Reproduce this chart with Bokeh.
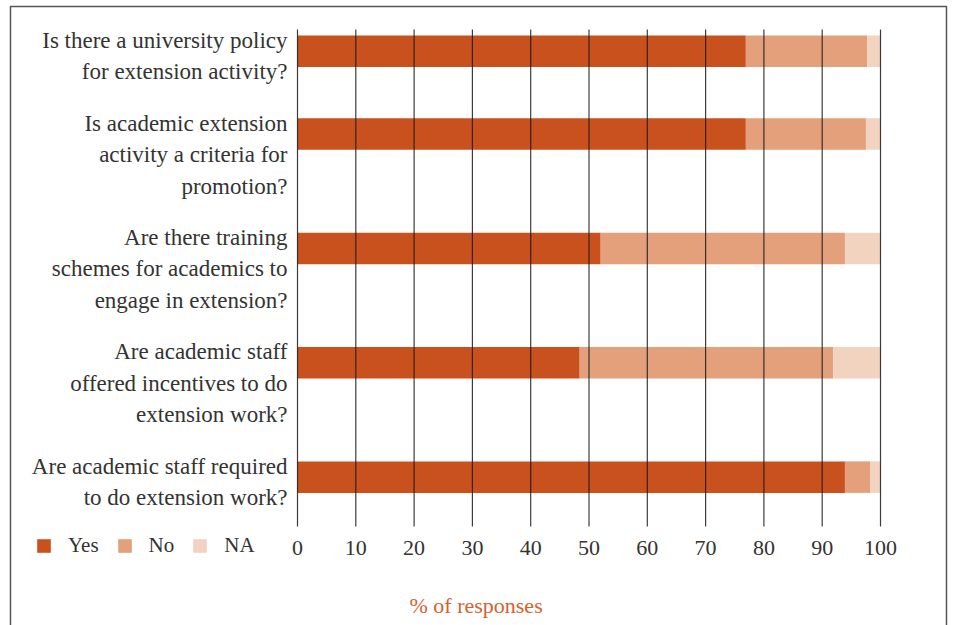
from bokeh.plotting import figure
from bokeh.models import (ColumnDataSource, Range1d, Legend, LegendItem,
                          BoxAnnotation)
from bokeh.core.properties import value
from bokeh.embed import file_html
from bokeh.resources import INLINE

# Survey questions (line breaks as laid out beside each bar)
questions = [
    "Is there a university policy\nfor extension activity?",
    "Is academic extension\nactivity a criteria for\npromotion?",
    "Are there training\nschemes for academics to\nengage in extension?",
    "Are academic staff\noffered incentives to do\nextension work?",
    "Are academic staff required\nto do extension work?",
]

# Share of responses (%)
yes = [76.9, 76.9, 52.0, 48.4, 93.9]
no = [20.8, 20.6, 41.9, 43.5, 4.3]
na = [2.3, 2.5, 6.1, 8.1, 1.8]

series = ["Yes", "No", "NA"]
colors = ["#C9511E", "#E3A07A", "#F2D3C0"]
x_ticks = [0, 10, 20, 30, 40, 50, 60, 70, 80, 90, 100]
x_title = "% of responses"

FONT = "Liberation Serif"
TEXT = "#333333"

# ---- page geometry (pixels) ----------------------------------------------
W, H = 953, 625
X0_PX, X100_PX = 297, 880      # where 0 % and 100 % fall
LINE_PX = 31.5                 # height of one text line / one bar
Y0_PX = 35                     # top of the first bar

XS = (X100_PX - X0_PX) / 100.0


def xd(px):
    """pixel column -> data x"""
    return (px - X0_PX) / XS


def yd(py):
    """pixel row -> data y (line units, growing downwards)"""
    return (py - Y0_PX) / LINE_PX


# Vertical layout in line units: each question block is as tall as its
# label, the bar sits on the first line, blocks are separated by a gap.
GAP = 0.63
starts = []
pos = 0.0
for q in questions:
    starts.append(pos)
    pos += len(q.split("\n")) + GAP
bar_y = [s + 0.5 for s in starts]

p = figure(width=W, height=H, output_backend="svg", toolbar_location=None,
           x_range=Range1d(xd(0), xd(W)), y_range=Range1d(yd(H), yd(0)),
           x_axis_location=None, y_axis_location=None, min_border=0,
           background_fill_color="white", border_fill_color="white",
           outline_line_color=None)
p.grid.visible = False

source = ColumnDataSource(dict(y=bar_y, Yes=yes, No=no, NA=na))
bars = p.hbar_stack(series, y="y", height=1.0, color=colors, source=source,
                    line_width=0)

# Vertical grid lines at every tick, drawn over the bars
grid_top, grid_bottom = yd(29), yd(526)
p.segment(x0=x_ticks, y0=[grid_top] * len(x_ticks),
          x1=x_ticks, y1=[grid_bottom] * len(x_ticks),
          line_color="#1a1a1a", line_alpha=0.85, line_width=1.2)

# Tick labels
p.text(x=x_ticks, y=[yd(547)] * len(x_ticks), text=[str(t) for t in x_ticks],
       text_align="center", text_baseline="alphabetic",
       text_font=value(FONT), text_font_size="22px", text_color=TEXT)

# Question labels, right-aligned beside the bars
lab_x, lab_y, lab_t = [], [], []
for q, s in zip(questions, starts):
    for k, line in enumerate(q.split("\n")):
        lab_x.append(0)
        lab_y.append(s + k + 0.15)
        lab_t.append(line)
p.text(x=lab_x, y=lab_y, text=lab_t, x_offset=-10,
       text_align="right", text_baseline="alphabetic",
       text_font=value(FONT), text_font_size="23px", text_color=TEXT)

# Axis title
p.text(x=[xd(409)], y=[yd(605)], text=[x_title],
       text_align="left", text_baseline="alphabetic",
       text_font=value(FONT), text_font_size="22px", text_color="#D4622F")

legend = Legend(items=[LegendItem(label=s, renderers=[r])
                       for s, r in zip(series, bars)],
                orientation="horizontal", location=(35, 67),
                glyph_width=17, glyph_height=17, label_standoff=16,
                label_height=17, spacing=17, padding=0, margin=0,
                border_line_color=None, background_fill_alpha=0,
                label_text_font=FONT, label_text_font_size="21px",
                label_text_color=TEXT)
p.add_layout(legend)

# Surrounding panel frame
p.add_layout(BoxAnnotation(left=xd(10), right=xd(946), top=yd(6),
                           bottom=yd(H + 50), fill_alpha=0,
                           line_color="#555555", line_alpha=1.0,
                           line_width=1.5))

open("out.html", "w").write(file_html(p, INLINE))
